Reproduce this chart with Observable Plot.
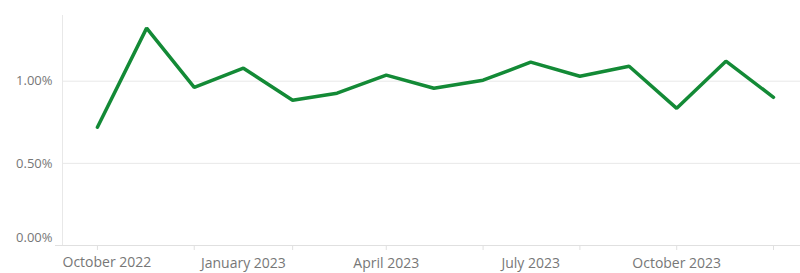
<!DOCTYPE html>
<html>
<head>
<meta charset="utf-8">
<script src="https://cdn.jsdelivr.net/npm/d3@7"></script>
<script src="https://cdn.jsdelivr.net/npm/@observablehq/plot@0.6"></script>
<style>
  html, body { margin: 0; padding: 0; background: #fff; }
  #chart svg { display: block; }
</style>
</head>
<body>
<div id="chart"></div>
<script>
const months = ["2022-10","2022-11","2022-12","2023-01","2023-02","2023-03","2023-04","2023-05","2023-06","2023-07","2023-08","2023-09","2023-10","2023-11","2023-12"];
const rates = [0.720, 1.323, 0.963, 1.079, 0.884, 0.927, 1.037, 0.957, 1.006, 1.116, 1.030, 1.091, 0.835, 1.122, 0.902];
const yTicks = [0.5, 1.0];
const yBottomTick = [0];
const tickMarkMonths = ["2022-10","2022-12","2023-02","2023-04","2023-06","2023-08","2023-10","2023-12"];
const labelMonths = ["2023-01","2023-04","2023-07","2023-10"];
const firstLabel = "October 2022";
const xDomain = ["2022-09-09","2023-12-18"];
const yDomain = [0, 1.40];

const parse = d3.utcParse("%Y-%m");
const parseDay = d3.utcParse("%Y-%m-%d");
const data = months.map((m, i) => ({date: parse(m), value: rates[i]}));
const fmtMonth = d3.utcFormat("%B %Y");
const fmtPct = d => d.toFixed(2) + "%";
const labelColor = "#777";

const chart = Plot.plot({
  width: 800,
  height: 273,
  marginLeft: 62,
  marginRight: 0,
  marginTop: 15,
  marginBottom: 28,
  style: {fontFamily: "'Open Sans', sans-serif", fontSize: "13px", color: labelColor, background: "#fff"},
  x: {type: "utc", domain: xDomain.map(parseDay), label: null},
  y: {domain: yDomain, label: null},
  marks: [
    Plot.gridY(yTicks, {stroke: "#e8e8e8", strokeOpacity: 1}),
    Plot.ruleX([parseDay(xDomain[0])], {stroke: "#e8e8e8", strokeOpacity: 1}),
    Plot.ruleY([0], {stroke: "#e0e0e0", x1: parseDay(xDomain[0]), x2: parseDay(xDomain[1]), insetLeft: -7}),
    Plot.axisY(yTicks, {tickSize: 0, tickPadding: 10, tickFormat: fmtPct, fill: labelColor, fontSize: 13, label: null}),
    Plot.axisY(yBottomTick, {tickSize: 0, tickPadding: 10, tickFormat: fmtPct, fill: labelColor, fontSize: 13, dy: -8, label: null}),
    Plot.axisX(tickMarkMonths.map(parse), {tickSize: 5, stroke: "#e0e0e0", tickFormat: () => "", label: null}),
    Plot.axisX(labelMonths.map(parse), {tickSize: 0, tickPadding: 13, tickFormat: fmtMonth, fill: labelColor, fontSize: 14, label: null}),
    Plot.text([firstLabel], {x: parseDay(xDomain[0]), frameAnchor: "bottom", textAnchor: "start", dy: 21, fill: labelColor, fontSize: 14}),
    Plot.line(data, {x: "date", y: "value", stroke: "#138a36", strokeWidth: 3.5, strokeLinejoin: "miter", strokeLinecap: "round"})
  ]
});
document.getElementById("chart").append(chart);
</script>
</body>
</html>
